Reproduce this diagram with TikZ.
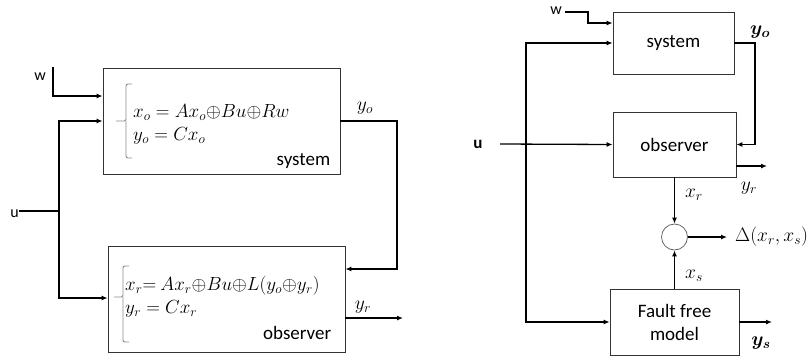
\RequirePackage{fix-cm}
\documentclass[tikz,border=0pt]{standalone}
\usepackage{fontspec}
\setmainfont{Carlito}
\usepackage{amsmath}
\usepackage{bm}
\usetikzlibrary{arrows.meta}
\tikzset{
  blk/.style={draw=black!80, line width=0.8pt, inner sep=0pt},
  arr/.style={line width=1.3pt, -{Latex[length=6pt,width=5pt]}},
  ln/.style={line width=1.3pt},
  brc/.style={draw=black!45, line width=0.9pt, rounded corners=2pt},
  txt/.style={font=\fontsize{19}{23}\selectfont, inner sep=0pt},
  lbl/.style={font=\fontsize{16}{19}\selectfont, inner sep=0pt},
  eq/.style={font=\fontsize{19}{23}\selectfont, inner sep=0pt, align=left, anchor=west},
  ml/.style={font=\fontsize{19.5}{23}\selectfont, inner sep=0pt}
}
\newcommand{\op}{\mathord{\oplus}}
\begin{document}
\begin{tikzpicture}[x=1pt,y=-1pt]
\useasboundingbox (0,0) rectangle (808,360);
% ---------------- left diagram ----------------
\node[blk, minimum width=237pt, minimum height=106pt] (sysL) at (221.5,121) {};
\node[blk, minimum width=237pt, minimum height=106pt] (obsL) at (226.5,299) {};
\node[eq] (eqS) at (133,124) {$x_o = Ax_o\op Bu\op Rw$\\$y_o = Cx_o$};
\node[eq] (eqO) at (125,297) {$x_r{=}\ Ax_r\op Bu\op L(y_o\op y_r)$\\$y_r = Cx_r$};
\node[txt, anchor=base east] (sysLt) at ([xshift=-10pt,yshift=9pt]sysL.south east) {system};
\node[txt, anchor=base east] (obsLt) at ([xshift=-14pt,yshift=13pt]obsL.south east) {observer};
% braces
\draw[brc] (132,84) -- (126,84) -- (126,121) -- (116,121);
\draw[brc] (132,158) -- (126,158) -- (126,121);
\draw[brc] (129,266) -- (123,266) -- (123,297) -- (114,297);
\draw[brc] (129,342) -- (123,342) -- (123,297);
% inputs
\node[lbl, anchor=base east] (wL) at (46,80) {w};
\coordinate (wtop) at (53,67);
\draw[arr] (wtop) |- ([yshift=25pt]sysL.west);
\node[lbl, anchor=base east] (uL) at (19,217) {u};
\coordinate (uj) at (59,211);
\draw[ln] (uL.east |- uj) -- (uj);
\draw[arr] (uj) |- (sysL.west);
\draw[arr] (uj) |- ([yshift=1pt]obsL.west);
% outputs
\coordinate (yoL) at (397,200);
\draw[arr] (sysL.east) -| (yoL) |- ([yshift=30pt]obsL.east);
\node[ml] (yoLt) at (365,108) {$y_o$};
\coordinate (yrL) at (403,318);
\draw[arr] (obsL.east |- yrL) -- (yrL);
\node[ml] (yrLt) at (363,307) {$y_r$};
% ---------------- right diagram ----------------
\node[blk, minimum width=121pt, minimum height=62pt, txt] (sysR) at (673.5,43) {system};
\node[blk, minimum width=123pt, minimum height=65pt, txt] (obsR) at (674.5,144.5) {observer};
\node[blk, minimum width=129pt, minimum height=66pt, txt, align=center] (ffm) at (674.5,322) {Fault free\\model};
\node[draw=black!60, line width=0.8pt, circle, minimum size=26pt, inner sep=0pt] (circ) at (674.5,237) {};
% w
\node[lbl, anchor=base] (wR) at (556,14) {w};
\coordinate (wbend) at (588,18);
\draw[arr] (565,12) -| (wbend) |- ([yshift=20pt]sysR.west);
% u
\node[txt, anchor=center, font=\fontsize{17}{20}\selectfont\bfseries] (uR) at (478,144) {u};
\draw[arr] (500,144) -- (obsR.west);
\coordinate (ujR) at (526,144);
\draw[arr] (ujR) |- (sysR.west);
\draw[arr] (ujR) |- (ffm.west);
% y_o
\coordinate (yoR) at (755,90);
\draw[arr] (sysR.east) -| (yoR) |- (obsR.east);
\node[ml] (yoRt) at (760,32) {$\bm{y_o}$};
% y_r
\coordinate (yrR) at (767,166);
\draw[arr] (obsR.east |- yrR) -- (yrR);
\node[ml] (yrRt) at (749,188) {$y_r$};
% x_r, x_s
\draw[arr] (obsR.south) -- (circ.north);
\node[ml] (xrt) at (694,195) {$x_r$};
\draw[arr] (ffm.north) -- (circ.south);
\node[ml] (xst) at (694,276) {$x_s$};
% delta
\node[ml, anchor=west, inner xsep=8pt] (dlt) at (727,237) {$\Delta(x_r,x_s)$};
\draw[arr] (circ.east) -- (dlt.west);
% y_s
\coordinate (ysR) at (772,322);
\draw[arr] (ffm.east) -- (ysR);
\node[ml] (yst) at (761,343) {$\bm{y_s}$};
\end{tikzpicture}
\end{document}
